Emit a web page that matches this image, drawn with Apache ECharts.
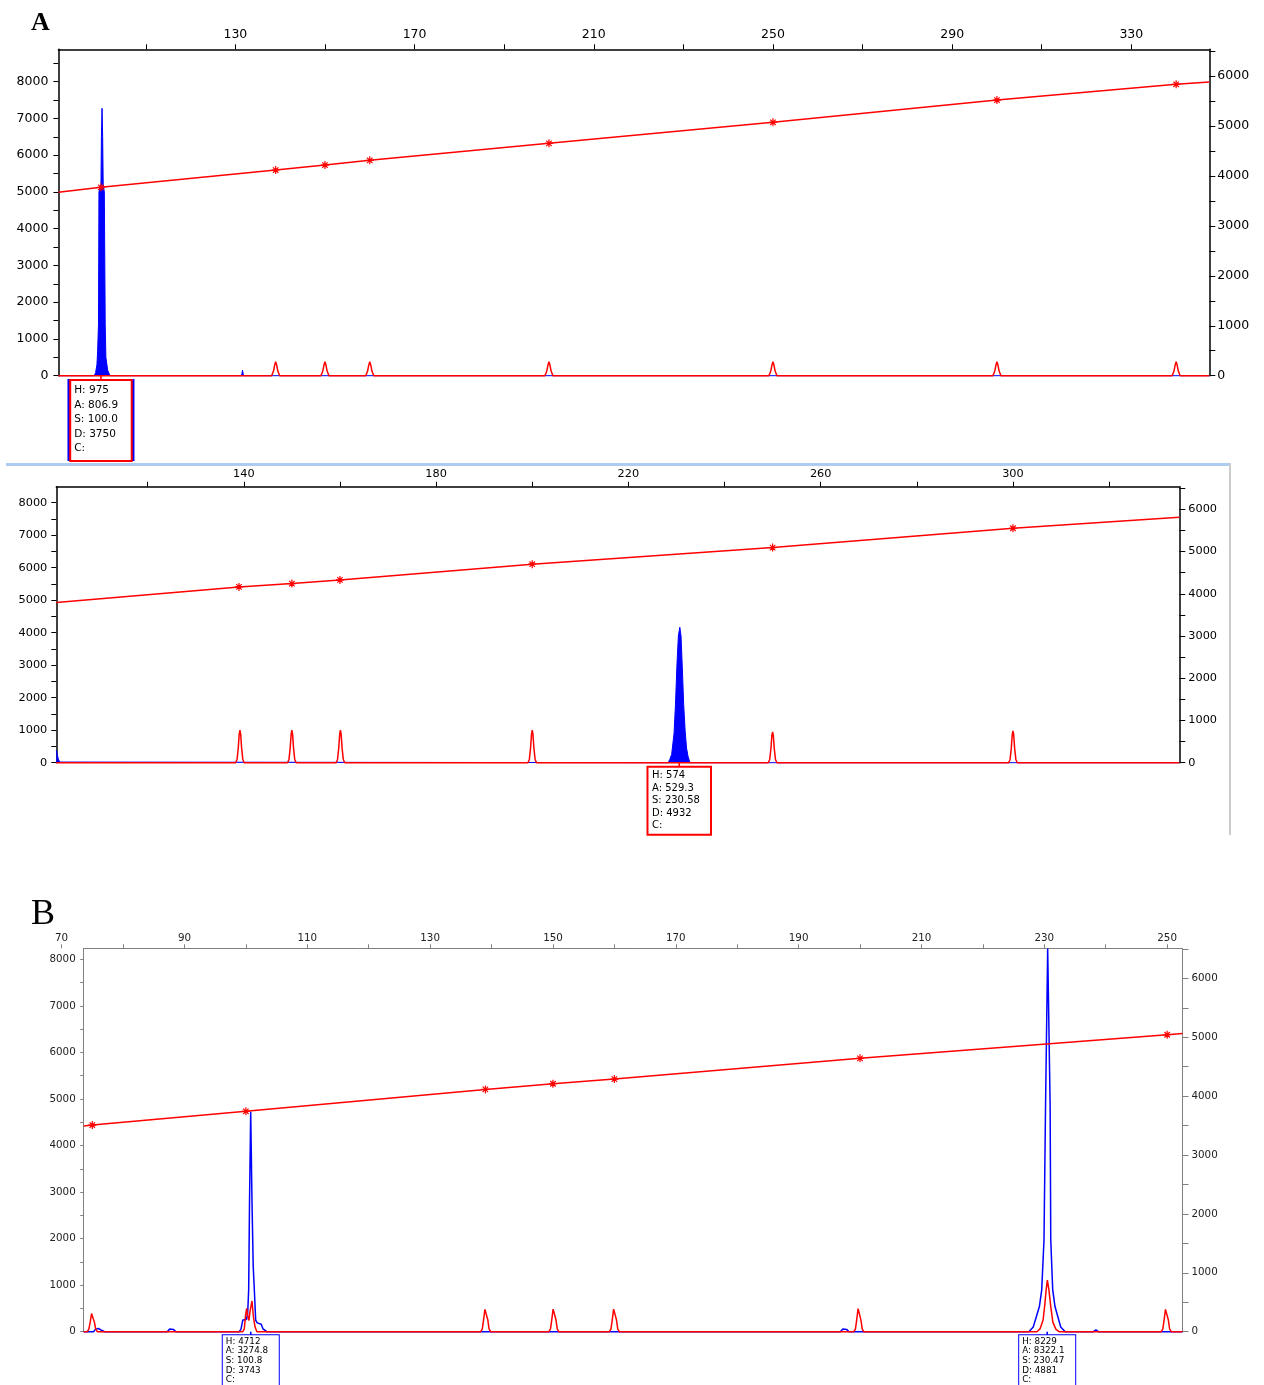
<!DOCTYPE html>
<html>
<head>
<meta charset="utf-8">
<script src="https://cdn.jsdelivr.net/npm/echarts@6/dist/echarts.min.js"></script>
<style>
html,body{margin:0;padding:0;background:#fff;}
#chart{width:1264px;height:1385px;}
</style>
</head>
<body>
<div id="chart"></div>
<script>
// ---------- Panel A (top run) ----------
const a1SizeTicks = [110,130,150,170,190,210,230,250,270,290,310,330];
const a1SizeLabels = [130,170,210,250,290,330];
const a1LeftTicks = [0,500,1000,1500,2000,2500,3000,3500,4000,4500,5000,5500,6000,6500,7000,7500,8000,8500];
const a1LeftLabels = [0,1000,2000,3000,4000,5000,6000,7000,8000];
const a1RightTicks = [0,500,1000,1500,2000,2500,3000,3500,4000,4500,5000,5500,6000,6500];
const a1RightLabels = [0,1000,2000,3000,4000,5000,6000];

const a1Blue = [
  [90.5,0],[98.5,0],[98.8,80],[99.1,300],[99.25,650],[99.45,1400],[99.55,5000],
  [100.0,5200],[100.1,6500],[100.24,7276],[100.38,6500],[100.5,5200],[100.75,5000],
  [100.95,1400],[101.1,500],[101.5,150],[102.0,0],
  [131.4,0],[131.6,150],[131.8,0],[347.4,0]
];
const a1Red = [
  [90.5,0],
  [138.1,0],[138.5,120],[138.8,300],[139,380],[139.2,300],[139.5,120],[139.9,0],
  [149.1,0],[149.5,120],[149.8,300],[150,380],[150.2,300],[150.5,120],[150.9,0],
  [159.1,0],[159.5,120],[159.8,300],[160,380],[160.2,300],[160.5,120],[160.9,0],
  [199.1,0],[199.5,120],[199.8,300],[200,380],[200.2,300],[200.5,120],[200.9,0],
  [249.1,0],[249.5,120],[249.8,300],[250,380],[250.2,300],[250.5,120],[250.9,0],
  [299.1,0],[299.5,120],[299.8,300],[300,380],[300.2,300],[300.5,120],[300.9,0],
  [339.1,0],[339.5,120],[339.8,300],[340,380],[340.2,300],[340.5,120],[340.9,0],
  [347.4,0]
];
const a1Sizing = [[90.5,3672],[100,3772],[139,4118],[150,4218],[160,4312],[200,4652],[250,5073],[300,5519],[340,5834],[347.4,5880]];
const a1CallSize = 100.0;
const a1Call = ['H: 975','A: 806.9','S: 100.0','D: 3750','C:'];

// ---------- Panel A (second run) ----------
const a2SizeTicks = [120,140,160,180,200,220,240,260,280,300,320];
const a2SizeLabels = [140,180,220,260,300];
const a2LeftTicks = [0,500,1000,1500,2000,2500,3000,3500,4000,4500,5000,5500,6000,6500,7000,7500,8000];
const a2LeftLabels = [0,1000,2000,3000,4000,5000,6000,7000,8000];
const a2RightTicks = [0,500,1000,1500,2000,2500,3000,3500,4000,4500,5000,5500,6000,6500];
const a2RightLabels = [0,1000,2000,3000,4000,5000,6000];

const a2Blue = [
  [101,390],[101.15,330],[101.4,120],[101.7,20],[102,0],
  [228.3,0],[228.6,100],[229.0,250],[229.5,900],[229.8,1800],[230.1,3000],[230.4,3900],
  [230.7,4166],[230.95,3900],[231.2,3000],[231.5,1800],[231.8,1000],[232.1,450],[232.4,200],[232.8,0],
  [334.6,0]
];
const a2Red = [
  [101,0],
  [138.3,0],[138.6,100],[138.85,450],[139.05,880],[139.2,1000],[139.35,880],[139.55,450],[139.8,100],[140.1,0],
  [149.1,0],[149.4,100],[149.65,450],[149.85,880],[150,1000],[150.15,880],[150.35,450],[150.6,100],[150.9,0],
  [159.2,0],[159.5,100],[159.75,450],[159.95,880],[160.1,1000],[160.25,880],[160.45,450],[160.7,100],[161.0,0],
  [199.1,0],[199.4,100],[199.65,450],[199.85,880],[200,1000],[200.15,880],[200.35,450],[200.6,100],[200.9,0],
  [249.1,0],[249.4,100],[249.65,430],[249.85,840],[250,950],[250.15,840],[250.35,430],[250.6,100],[250.9,0],
  [299.1,0],[299.4,100],[299.65,440],[299.85,860],[300,980],[300.15,860],[300.35,440],[300.6,100],[300.9,0],
  [334.6,0]
];
const a2Sizing = [[101,3791],[139,4163],[150,4241],[160,4328],[200,4700],[250,5093],[300,5551],[334.6,5811]];
const a2CallSize = 230.58;
const a2Call = ['H: 574','A: 529.3','S: 230.58','D: 4932','C:'];

// ---------- Panel B ----------
const bSizeTicks = [70,80,90,100,110,120,130,140,150,160,170,180,190,200,210,220,230,240,250];
const bSizeLabels = [70,90,110,130,150,170,190,210,230,250];
const bLeftTicks = [0,500,1000,1500,2000,2500,3000,3500,4000,4500,5000,5500,6000,6500,7000,7500,8000];
const bLeftLabels = [0,1000,2000,3000,4000,5000,6000,7000,8000];
const bRightTicks = [0,500,1000,1500,2000,2500,3000,3500,4000,4500,5000,5500,6000,6500];
const bRightLabels = [0,1000,2000,3000,4000,5000,6000];

const bBlue = [
  [73.6,0],[75.2,0],[75.5,50],[76.0,70],[76.5,30],[77,0],
  [87.2,0],[87.6,60],[88.2,50],[88.6,0],
  [98.9,0],[99.2,50],[99.5,250],[100.1,260],[100.3,400],[100.46,900],[100.6,2800],[100.79,4726],
  [101.0,2800],[101.2,1400],[101.38,900],[101.6,250],[101.85,190],[102.5,160],[102.8,60],[103.4,0],
  [196.8,0],[197.2,60],[197.8,50],[198.2,0],
  [227.5,0],[228.2,100],[229.2,540],[229.58,900],[229.95,1970],[230.2,4830],[230.55,8229],
  [230.95,4830],[231.05,1970],[231.37,900],[231.74,540],[232.67,100],[233.4,0],
  [238.0,0],[238.4,40],[238.8,0],
  [252.5,0]
];
const bRed = [
  [73.6,0],
  [74.2,0],[74.45,60],[74.65,200],[74.88,390],[75.0,410],[75.12,390],[75.35,200],[75.55,60],[75.8,0],
  [99.5,0],[99.75,60],[99.95,350],[100.14,500],[100.3,350],[100.5,240],[100.7,450],[101.0,660],[101.25,300],[101.5,100],[101.8,0],
  [138.25,0],[138.5,60],[138.7,250],[138.93,480],[139.05,500],[139.17,480],[139.4,250],[139.6,60],[139.85,0],
  [149.35,0],[149.6,60],[149.8,250],[150.03,485],[150.15,505],[150.27,485],[150.5,250],[150.7,60],[150.95,0],
  [159.2,0],[159.45,60],[159.65,250],[159.88,485],[160,505],[160.12,485],[160.35,250],[160.55,60],[160.8,0],
  [199.0,0],[199.25,60],[199.45,250],[199.68,495],[199.8,515],[199.92,495],[200.15,250],[200.35,60],[200.6,0],
  [228.8,0],[229.3,60],[229.8,250],[230.05,540],[230.3,900],[230.5,1110],[230.75,900],[231.05,540],[231.4,200],[231.9,50],[232.4,0],
  [249.05,0],[249.3,60],[249.5,250],[249.73,480],[249.85,500],[249.97,480],[250.2,250],[250.4,60],[250.65,0],
  [252.5,0]
];
const bSizing = [[73.6,3492],[75,3509],[100,3743],[139,4115],[150,4211],[160,4290],[200,4642],[250,5043],[252.5,5066]];
const bCall1Size = 100.8;
const bCall1 = ['H: 4712','A: 3274.8','S: 100.8','D: 3743','C:'];
const bCall2Size = 230.47;
const bCall2 = ['H: 8229','A: 8322.1','S: 230.47','D: 4881','C:'];

// ---------- styling helpers ----------
const RED = '#ff0000', BLUE = '#0000ff';
const FONT = 'DejaVu Sans';
const STAR = 'path://M0,5L10,5M5,0L5,10M1.6,1.6L8.4,8.4M8.4,1.6L1.6,8.4';
const plain = v => String(v);

function axisX(gridIndex, min, max, ticks, labels, o) {
  return {
    type: 'value', gridIndex, position: 'top', min, max,
    axisLine: { show: o.line !== false, onZero: false, lineStyle: { color: o.color, width: o.lw } },
    axisTick: { show: !!ticks, customValues: ticks || [], length: o.tl, inside: false, lineStyle: { color: o.color, width: 1 } },
    axisLabel: { show: !!labels, customValues: labels || [], formatter: plain, fontFamily: FONT, fontSize: o.fs, color: o.tc, margin: o.m },
    splitLine: { show: false }
  };
}
function axisY(gridIndex, pos, max, ticks, labels, o) {
  return {
    type: 'value', gridIndex, position: pos, min: 0, max,
    axisLine: { show: true, onZero: false, lineStyle: { color: o.color, width: o.lw } },
    axisTick: { show: true, customValues: ticks, length: o.tl, lineStyle: { color: o.color, width: 1 } },
    axisLabel: { customValues: labels, formatter: plain, fontFamily: FONT, fontSize: o.fs, color: o.tc, margin: o.m },
    splitLine: { show: false }
  };
}
function trace(xi, yi, data, color, width, area) {
  const s = {
    type: 'line', xAxisIndex: xi, yAxisIndex: yi, data, symbol: 'none', clip: false,
    lineStyle: { color, width }, silent: true, emphasis: { disabled: true }
  };
  if (area) s.areaStyle = { color, opacity: 1 };
  return s;
}
function sizing(xi, yi, data) {
  return {
    type: 'line', xAxisIndex: xi, yAxisIndex: yi, clip: false, silent: true,
    emphasis: { disabled: true },
    data: data.map((p, i, arr) => (i === 0 || i === arr.length - 1) ? { value: p, symbol: 'none' } : p),
    symbol: STAR, symbolSize: 8, showAllSymbol: true,
    itemStyle: { color: RED, borderColor: RED, borderWidth: 1.2 },
    lineStyle: { color: RED, width: 1.5 }
  };
}
function tickMark(xi, yi, x, color, len) {
  return {
    type: 'scatter', xAxisIndex: xi, yAxisIndex: yi, data: [[x, 0]], clip: false, silent: true, z: 3,
    symbol: 'rect', symbolSize: [1.6, len], symbolOffset: [0, len / 2],
    itemStyle: { color, opacity: 1 }, emphasis: { disabled: true }
  };
}
function callBox(xi, yi, x, lines, o, z) {
  return {
    type: 'scatter', xAxisIndex: xi, yAxisIndex: yi, data: [[x, 0]], clip: false, silent: true, z: z,
    symbolSize: 0, itemStyle: { color: '#ffffff', opacity: 1 }, emphasis: { disabled: true },
    label: {
      show: true, position: 'bottom', distance: o.d,
      formatter: lines ? lines.map(s => '{t|' + s + '}').join('\n') : '{t| }',
      width: o.w, height: o.h, padding: o.pad,
      backgroundColor: o.bg, borderColor: o.bc, borderWidth: o.bw,
      fontFamily: FONT, fontSize: o.fs, lineHeight: o.lh, color: '#000',
      rich: { t: { align: 'left', fontFamily: FONT, fontSize: o.fs, lineHeight: o.lh, color: '#000' } }
    }
  };
}

const styA1 = { color: '#000', lw: 1.5, tl: 5, fs: 12.5, tc: '#000', m: 9 };
const styA2 = { color: '#000', lw: 1.5, tl: 5, fs: 11.3, tc: '#000', m: 8 };
const styB = { color: '#808080', lw: 1, tl: 4, fs: 10.3, tc: '#222', m: 7 };

const chart = echarts.init(document.getElementById('chart'), null, { renderer: 'canvas' });
chart.setOption({
  animation: false,
  backgroundColor: '#ffffff',
  grid: [
    { left: 58.4, right: 54.7, top: 49.3, height: 326.4 },
    { left: 56.3, right: 84.7, top: 486.7, height: 276 },
    { left: 83.7, right: 81.5, top: 948.3, height: 383.4 },
    { left: 61.6, right: 81.5, top: 948.3, height: 383.4 }
  ],
  xAxis: [
    axisX(0, 90.5, 347.4, a1SizeTicks, a1SizeLabels, Object.assign({}, styA1, { m: 8 })),
    axisX(1, 101, 334.6, a2SizeTicks, a2SizeLabels, Object.assign({}, styA2, { m: 7 })),
    axisX(2, 73.6, 252.5, null, null, styB),
    axisX(3, 70, 252.5, bSizeTicks, bSizeLabels, Object.assign({}, styB, { line: false, m: 5 }))
  ],
  yAxis: [
    axisY(0, 'left', 8880, a1LeftTicks, a1LeftLabels, Object.assign({}, styA1, { m: 10 })),
    axisY(0, 'right', 6535, a1RightTicks, a1RightLabels, Object.assign({}, styA1, { m: 8, tl: 6 })),
    axisY(1, 'left', 8492, a2LeftTicks, a2LeftLabels, Object.assign({}, styA2, { m: 9 })),
    axisY(1, 'right', 6535, a2RightTicks, a2RightLabels, Object.assign({}, styA2, { m: 9, tl: 6 })),
    axisY(2, 'left', 8236, bLeftTicks, bLeftLabels, Object.assign({}, styB, { m: 8, tl: 3.5 })),
    axisY(2, 'right', 6511, bRightTicks, bRightLabels, Object.assign({}, styB, { m: 9, tl: 6 })),
    { type: 'value', gridIndex: 3, show: false, min: 0, max: 1 }
  ],
  graphic: [
    { type: 'text', left: 31, top: 10, style: { text: 'A', font: 'bold 26px "Liberation Serif"', fill: '#000' } },
    { type: 'text', left: 31, top: 897, style: { text: 'B', font: '36px "Liberation Serif"', fill: '#000' } },
    { type: 'rect', shape: { x: 6, y: 463, width: 1224, height: 3 }, style: { fill: '#aecbf0' } },
    { type: 'rect', shape: { x: 1229, y: 463, width: 2, height: 372 }, style: { fill: '#cccccc' } }
  ],
  series: [
    // A1
    trace(0, 0, a1Blue, BLUE, 1, true),
    trace(0, 0, a1Red, RED, 1.5, false),
    sizing(0, 1, a1Sizing),
    tickMark(0, 0, a1CallSize, RED, 6),
    callBox(0, 0, a1CallSize, null, { d: 3.3, w: 67, h: 82, pad: 0, bg: BLUE, bc: BLUE, bw: 0, fs: 10.5, lh: 14.6 }, 4),
    callBox(0, 0, a1CallSize, a1Call, { d: 5.3, w: 53.5, h: 73, pad: [2, 3, 4, 3], bg: '#ffffff', bc: RED, bw: 2, fs: 10.5, lh: 14.6 }, 6),
    // A2
    trace(1, 2, a2Blue, BLUE, 1, true),
    trace(1, 2, a2Red, RED, 1.5, false),
    sizing(1, 3, a2Sizing),
    tickMark(1, 2, a2CallSize, RED, 6),
    callBox(1, 2, a2CallSize, a2Call, { d: 5, w: 55, h: 62, pad: [2, 3, 2, 3.5], bg: '#ffffff', bc: RED, bw: 2, fs: 10, lh: 12.4 }, 6),
    // B
    trace(2, 4, bBlue, BLUE, 1.5, false),
    trace(2, 4, bRed, RED, 1.5, false),
    sizing(2, 5, bSizing),
    tickMark(2, 4, bCall1Size, BLUE, 5),
    tickMark(2, 4, bCall2Size, BLUE, 5),
    callBox(2, 4, bCall1Size, bCall1, { d: 3.5, w: 50, h: 48.5, pad: [1.2, 3, 2, 3], bg: '#ffffff', bc: BLUE, bw: 1, fs: 8.8, lh: 9.7 }, 6),
    callBox(2, 4, bCall2Size, bCall2, { d: 3.5, w: 50, h: 48.5, pad: [1.2, 3, 2, 3], bg: '#ffffff', bc: BLUE, bw: 1, fs: 8.8, lh: 9.7 }, 6)
  ]
});
</script>
</body>
</html>
